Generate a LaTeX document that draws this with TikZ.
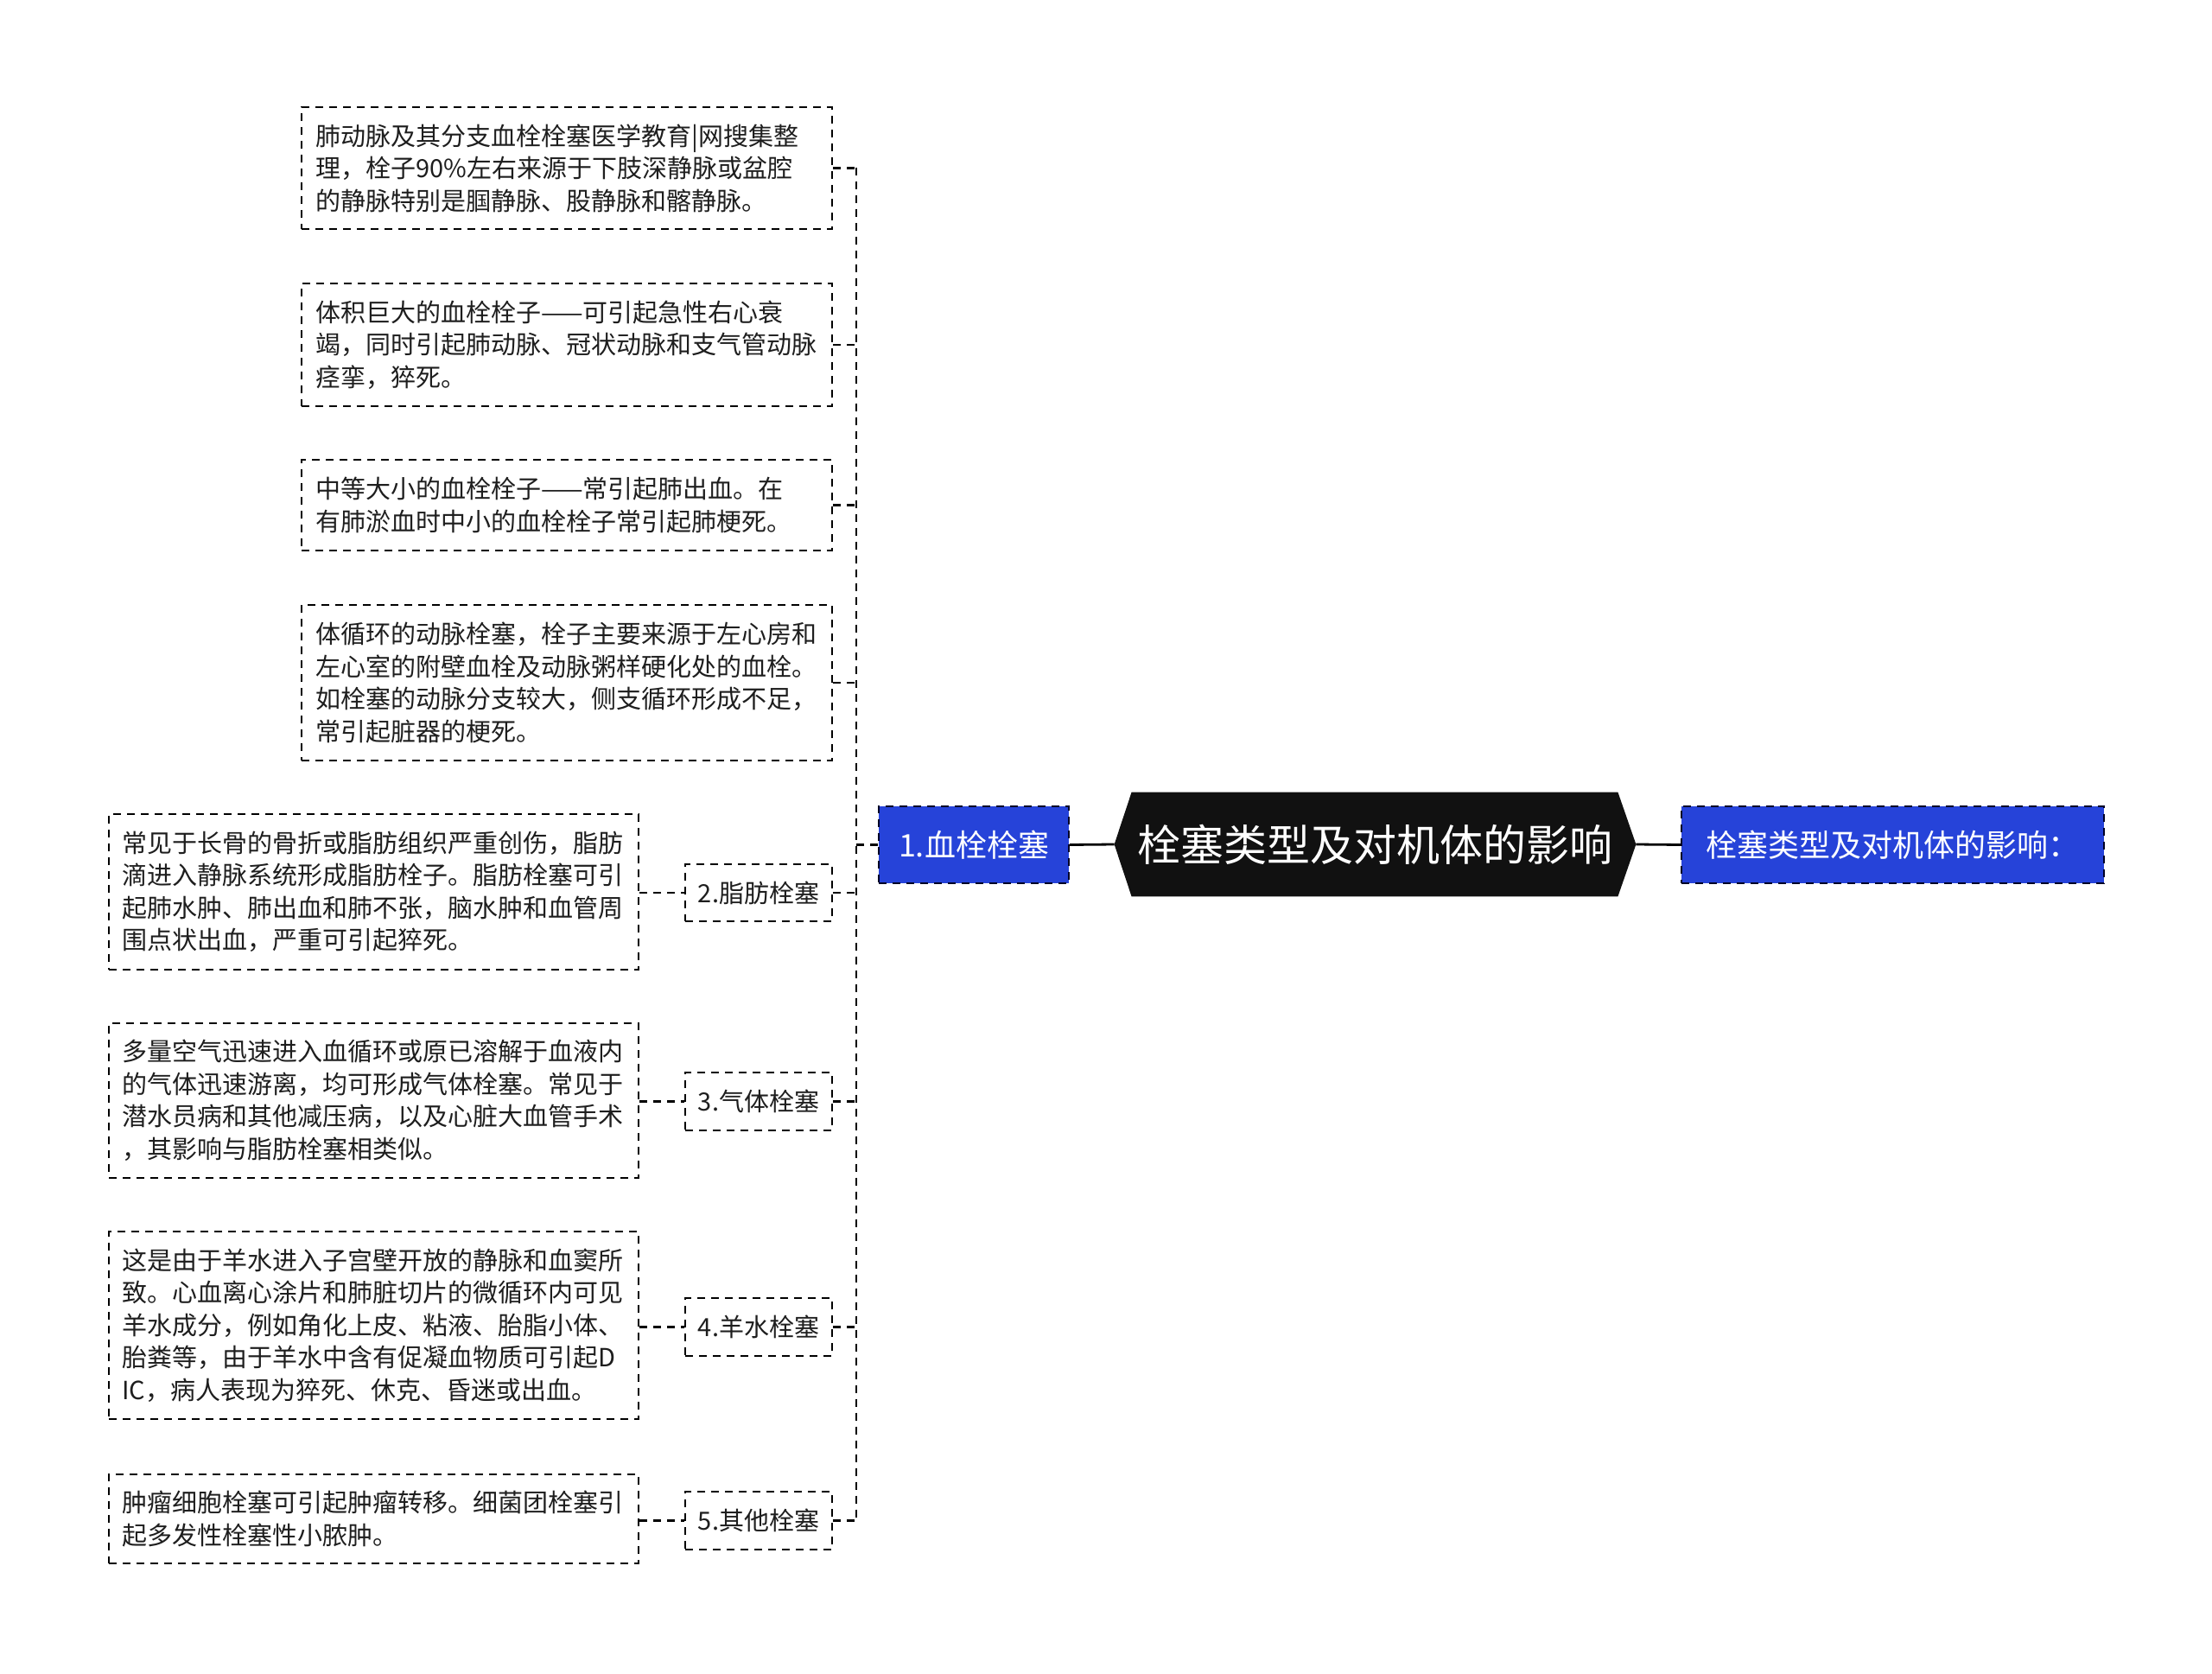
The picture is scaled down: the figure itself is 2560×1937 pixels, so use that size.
\documentclass[tikz,border=0pt]{standalone}
\usepackage{fontspec}
\newfontfamily\cjk{Noto Sans CJK SC}
\definecolor{nblue}{RGB}{38,67,217}
\definecolor{hexc}{RGB}{17,17,17}
\definecolor{tcol}{RGB}{30,30,30}
\pgfdeclarelayer{bg}
\pgfsetlayers{bg,main}
\newcommand\bx[7]{%
  \pgfmathsetmacro\bxw{(#5-#3)/2}%
  \pgfmathsetmacro\bxh{(#6-#4)/2}%
  \node[#1, minimum width=\bxw pt, minimum height=\bxh pt] (#2) at ({(#3+#5)/2},{(#4+#6)/2}) {#7};%
}
\newcommand\tb[7]{%
  \bx{tbox}{#1}{#2}{#3}{#4}{#5}{}%
  \node[txt] (#1t) at ([xshift=#6]#1.west) {#7};%
}
\begin{document}
\begin{tikzpicture}[x=0.5pt,y=-0.5pt,
 dsh/.style={dash pattern=on 4.5pt off 3.5pt},
 tbox/.style={draw=black,dsh,line width=1.1pt,inner sep=0pt},
 txt/.style={font=\cjk\fontsize{14.5}{18.75}\selectfont,text=tcol,align=left,inner sep=0pt,anchor=west},
 lbl/.style={tbox,font=\cjk\fontsize{14.5}{18}\selectfont,text=tcol},
 bnode/.style={fill=nblue,draw=black!85!blue,dsh,line width=0.9pt,font=\cjk\fontsize{18}{22}\selectfont,text=white,inner sep=0pt},
 hexnode/.style={font=\cjk\fontsize{25}{30}\selectfont,text=white,inner sep=0pt},
 conn/.style={draw=black,dsh,line width=1.1pt},
 sconn/.style={draw=black,line width=1.4pt},
]
\begin{pgfonlayer}{bg}
\fill[white] (0,0) rectangle (2560,1937);
\end{pgfonlayer}
\useasboundingbox (0,0) rectangle (2560,1937);

% text boxes of 1.血栓栓塞
\tb{b1}{349}{124}{963}{265}{8.5pt}{肺动脉及其分支血栓栓塞医学教育|网搜集整\\理，栓子90\%左右来源于下肢深静脉或盆腔\\的静脉特别是腘静脉、股静脉和髂静脉。}
\tb{b2}{349}{328}{963}{470}{8.5pt}{体积巨大的血栓栓子——可引起急性右心衰\\竭，同时引起肺动脉、冠状动脉和支气管动脉\\痉挛，猝死。}
\tb{b3}{349}{532}{963}{637}{8.5pt}{中等大小的血栓栓子——常引起肺出血。在\\有肺淤血时中小的血栓栓子常引起肺梗死。}
\tb{b4}{349}{700}{963}{880}{8.5pt}{体循环的动脉栓塞，栓子主要来源于左心房和\\左心室的附壁血栓及动脉粥样硬化处的血栓。\\如栓塞的动脉分支较大，侧支循环形成不足，\\常引起脏器的梗死。}

% other text boxes
\tb{f}{126}{942}{739}{1122}{8pt}{常见于长骨的骨折或脂肪组织严重创伤，脂肪\\滴进入静脉系统形成脂肪栓子。脂肪栓塞可引\\起肺水肿、肺出血和肺不张，脑水肿和血管周\\围点状出血，严重可引起猝死。}
\tb{g}{126}{1184}{739}{1363}{8pt}{多量空气迅速进入血循环或原已溶解于血液内\\的气体迅速游离，均可形成气体栓塞。常见于\\潜水员病和其他减压病，以及心脏大血管手术\\，其影响与脂肪栓塞相类似。}
\tb{a}{126}{1425}{739}{1642}{8pt}{这是由于羊水进入子宫壁开放的静脉和血窦所\\致。心血离心涂片和肺脏切片的微循环内可见\\羊水成分，例如角化上皮、粘液、胎脂小体、\\胎粪等，由于羊水中含有促凝血物质可引起D\\IC，病人表现为猝死、休克、昏迷或出血。}
\tb{o}{126}{1706}{739}{1809}{8pt}{肿瘤细胞栓塞可引起肿瘤转移。细菌团栓塞引\\起多发性栓塞性小脓肿。}

% labels
\bx{lbl}{l2}{793}{1000}{963}{1066}{2.脂肪栓塞}
\bx{lbl}{l3}{793}{1241}{963}{1308}{3.气体栓塞}
\bx{lbl}{l4}{793}{1502}{963}{1569}{4.羊水栓塞}
\bx{lbl}{l5}{793}{1726}{963}{1793}{5.其他栓塞}

% blue nodes
\bx{bnode}{n1}{1017}{933}{1237}{1022}{1.血栓栓塞}
\bx{bnode}{r}{1946}{933}{2435}{1022}{栓塞类型及对机体的影响：}

% central hexagon
\node[hexnode, minimum width=301.5pt, minimum height=60pt] (hex) at (1591.5,977) {栓塞类型及对机体的影响};
\begin{pgfonlayer}{bg}
\fill[hexc] ([xshift=10pt]hex.north west) -- ([xshift=-10.5pt]hex.north east) -- (hex.east)
  -- ([xshift=-10.5pt]hex.south east) -- ([xshift=10pt]hex.south west) -- (hex.west) -- cycle;
\end{pgfonlayer}

% trunk
\coordinate (tk) at (991,0);
\draw[conn] (b1.east -| tk) -- (l5.east -| tk);
\foreach \n in {b1,b2,b3,b4,l2,l3,l4,l5}
  \draw[conn] (\n.east) -- (\n.east -| tk);
\draw[conn] (n1.west) -- (n1.west -| tk);

% text boxes to labels
\draw[conn] (l2.west -| f.east) -- (l2.west);
\draw[conn] (l3.west -| g.east) -- (l3.west);
\draw[conn] (l4.west -| a.east) -- (l4.west);
\draw[conn] (l5.west -| o.east) -- (l5.west);

% main connectors
\draw[sconn] (n1.east) -- (hex.west);
\draw[sconn] (hex.east) -- (r.west);
\end{tikzpicture}
\end{document}
